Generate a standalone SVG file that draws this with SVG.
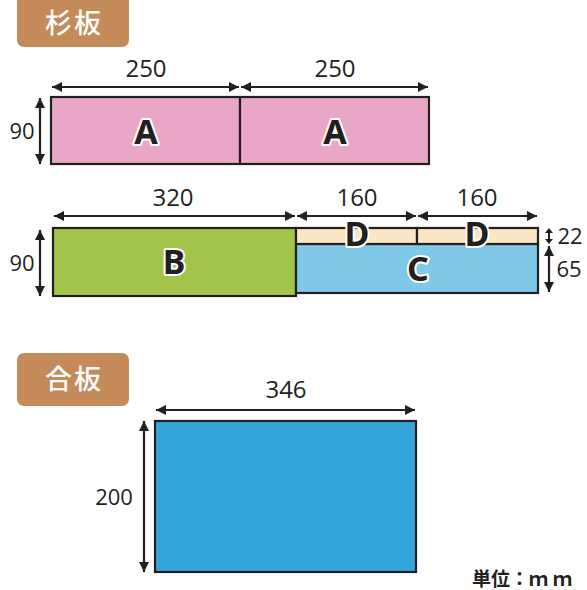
<svg xmlns="http://www.w3.org/2000/svg" width="587" height="590" viewBox="0 0 587 590">
<defs>
<marker id="ah" viewBox="0 0 10 10" refX="10" refY="5" markerWidth="11" markerHeight="10" markerUnits="userSpaceOnUse" orient="auto-start-reverse">
<path d="M0,0 L10,5 L0,10 Z" fill="#231F20"/>
</marker>
<style>
.badge{fill:#C48A5A}
.btxt{font-family:"Noto Sans CJK JP",sans-serif;font-size:27px;font-weight:500;fill:#fff;text-anchor:middle;letter-spacing:2px}
.board{stroke:#231F20;stroke-width:2.2}
.dim{stroke:#231F20;stroke-width:2.2;fill:none;marker-start:url(#ah);marker-end:url(#ah)}
.num{font-family:"Open Sans","Noto Sans",sans-serif;font-size:24px;fill:#231F20;text-anchor:middle}
.lbl{font-family:"Noto Sans","Liberation Sans",sans-serif;font-weight:bold;font-size:34px;fill:#231F20;stroke:#fff;stroke-width:4;paint-order:stroke;stroke-linejoin:round;text-anchor:middle}
</style>
</defs>

<g id="badge-sugi">
<rect class="badge" x="17" y="-8" width="112" height="55" rx="7"/>
<text class="btxt" x="74" y="33">杉板</text>
</g>

<g id="board-A1">
<rect class="board" x="51" y="97" width="189" height="67" fill="#EAA6C6"/>
<text class="lbl" x="146" y="144">A</text>
</g>
<g id="board-A2">
<rect class="board" x="240" y="97" width="189" height="67" fill="#EAA6C6"/>
<text class="lbl" x="335" y="144">A</text>
</g>

<g id="board-B">
<rect class="board" x="53" y="228" width="243" height="68" fill="#A2C44B"/>
<text class="lbl" x="174" y="274">B</text>
</g>
<g id="board-C">
<rect class="board" x="296" y="244" width="242" height="49" fill="#80C8E8"/>
<text class="lbl" x="418" y="281">C</text>
</g>
<g id="board-D1">
<rect class="board" x="296" y="228" width="121" height="16" fill="#FBE5C2"/>
<text class="lbl" x="357" y="246">D</text>
</g>
<g id="board-D2">
<rect class="board" x="417" y="228" width="121" height="16" fill="#FBE5C2"/>
<text class="lbl" x="477" y="246">D</text>
</g>

<g id="badge-gou">
<rect class="badge" x="17" y="353" width="112" height="53" rx="7"/>
<text class="btxt" x="74" y="389">合板</text>
</g>
<g id="board-plywood">
<rect class="board" x="155" y="421" width="261" height="151" fill="#34A5D8"/>
</g>

<g id="connectors">
<line class="dim" x1="52" y1="87" x2="239" y2="87"/>
<line class="dim" x1="241" y1="87" x2="428" y2="87"/>
<line class="dim" x1="40" y1="98" x2="40" y2="164"/>
<line class="dim" x1="54" y1="216" x2="295" y2="216"/>
<line class="dim" x1="297" y1="216" x2="416" y2="216"/>
<line class="dim" x1="418" y1="216" x2="537" y2="216"/>
<line class="dim" x1="40" y1="230" x2="40" y2="296"/>
<line x1="549" y1="231" x2="549" y2="241" stroke="#231F20" stroke-width="2"/>
<path d="M545,233 L549,228 L553,233 Z M545,239 L549,244 L553,239 Z" fill="#231F20"/>
<line class="dim" x1="549" y1="246" x2="549" y2="292"/>
<line class="dim" x1="156" y1="410" x2="415" y2="410"/>
<line class="dim" x1="144" y1="421" x2="144" y2="572"/>
</g>

<g id="dimension-labels">
<text class="num" x="146" y="77">250</text>
<text class="num" x="335" y="77">250</text>
<text class="num" x="22" y="139" style="font-size:22px">90</text>
<text class="num" x="173" y="206">320</text>
<text class="num" x="357" y="206">160</text>
<text class="num" x="477" y="206">160</text>
<text class="num" x="22" y="271" style="font-size:22px">90</text>
<text class="num" x="570" y="244" style="font-size:22px">22</text>
<text class="num" x="569" y="277" style="font-size:22px">65</text>
<text class="num" x="286" y="398">346</text>
<text class="num" x="114" y="505" style="font-size:22px">200</text>
</g>

<text x="472" y="586" font-family="Noto Sans CJK JP, sans-serif" font-weight="bold" font-size="19" fill="#231F20">単位：<tspan letter-spacing="5">ｍｍ</tspan></text>
</svg>
